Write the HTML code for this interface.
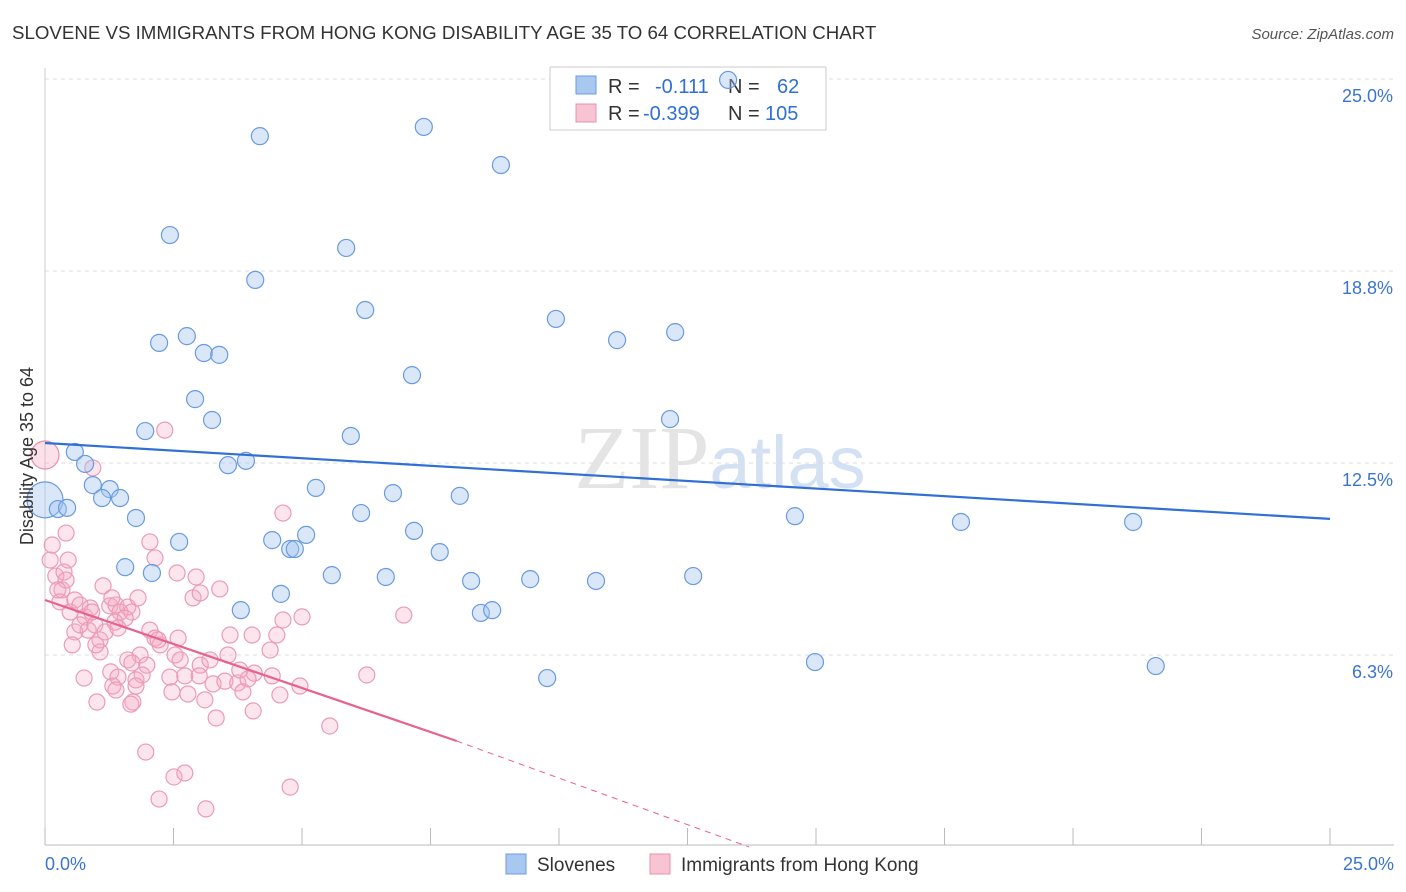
<!DOCTYPE html>
<html><head><meta charset="utf-8"><style>
body{margin:0;background:#fff;font-family:"Liberation Sans",sans-serif}
svg{display:block}
</style></head><body>
<svg id="chart" width="1406" height="892" xmlns="http://www.w3.org/2000/svg">
<text x="12" y="39" font-size="18.7" fill="#333">SLOVENE VS IMMIGRANTS FROM HONG KONG DISABILITY AGE 35 TO 64 CORRELATION CHART</text>
<text x="1394" y="39" font-size="15" fill="#555" text-anchor="end" font-style="italic">Source: ZipAtlas.com</text>
<g id="grid"></g>
<text x="720" y="488" font-size="90" text-anchor="middle" fill="#e4e4e4" font-family="Liberation Serif,serif">ZIP<tspan fill="#d3e1f3" font-family="Liberation Sans,sans-serif" font-size="74">atlas</tspan></text>
<g id="axes"></g>
<g>
<rect x="550" y="67" width="276" height="63" fill="#fff" stroke="#ccc"/>
<rect x="576" y="76" width="20" height="18" fill="#a9c8f0" stroke="#6a9be0"/>
<rect x="576" y="104" width="20" height="18" fill="#f8c3d3" stroke="#e890ab"/>
<text x="608" y="93" font-size="20" fill="#333">R = <tspan fill="#2f6fd6" x="655">-0.111</tspan><tspan x="728" fill="#333">N =</tspan><tspan x="777" fill="#2f6fd6">62</tspan></text>
<text x="608" y="120" font-size="20" fill="#333">R = <tspan fill="#2f6fd6" x="643">-0.399</tspan><tspan x="728" fill="#333">N =</tspan><tspan x="765" fill="#2f6fd6">105</tspan></text>
</g>
<g id="pinkPts"></g>
<g id="bluePts"></g>
<g id="lines"></g>
<text transform="translate(33,456) rotate(-90)" font-size="18" fill="#333" text-anchor="middle">Disability Age 35 to 64</text>
<g>
<rect x="506" y="854" width="20" height="20" fill="#a9c8f0" stroke="#6a9be0"/>
<text x="537" y="871" font-size="19" fill="#333">Slovenes</text>
<rect x="650" y="854" width="20" height="20" fill="#f8c3d3" stroke="#e890ab"/>
<text x="681" y="871" font-size="19" fill="#333">Immigrants from Hong Kong</text>
</g>
</svg>
<script>
const blueX=[13.29,4.18,7.37,8.87,2.43,5.86,4.09,6.23,9.94,11.13,12.26,2.76,2.22,3.09,3.39,7.14,2.92,3.25,12.16,1.95,5.95,0.58,0.78,3.56,3.91,0.93,5.27,1.26,6.77,8.07,1.11,1.46,0.25,0.43,1.77,6.15,14.59,17.82,21.17,7.18,4.42,5.08,2.61,4.77,4.86,7.68,1.56,2.08,5.58,6.63,8.29,9.44,10.72,12.61,4.59,3.81,8.48,8.70,14.98,21.61,9.77];
const blueY=[24.97,23.14,23.44,22.20,19.92,19.50,18.46,17.48,17.19,16.50,16.76,16.63,16.41,16.08,16.02,15.36,14.58,13.90,13.93,13.54,13.38,12.86,12.47,12.43,12.57,11.78,11.69,11.65,11.52,11.43,11.36,11.36,11.00,11.04,10.71,10.87,10.77,10.58,10.58,10.29,9.99,10.16,9.93,9.70,9.70,9.60,9.11,8.92,8.85,8.79,8.66,8.72,8.66,8.82,8.24,7.71,7.62,7.71,6.02,5.89,5.50];
const pinkX=[0.14,0.10,0.21,0.33,0.37,0.41,0.93,2.33,0.29,0.49,0.58,0.68,0.78,0.88,1.13,1.26,1.38,1.46,1.61,1.69,0.84,0.97,1.07,1.17,0.58,0.53,1.36,1.42,1.81,2.04,2.14,2.57,2.94,2.88,3.02,3.40,2.04,2.14,2.24,2.20,1.85,1.61,1.98,2.53,2.63,3.02,3.21,3.56,3.60,4.03,4.51,4.38,4.63,5.00,4.63,6.98,1.28,1.42,1.77,1.89,1.69,1.32,1.38,1.77,2.43,2.72,3.00,3.27,3.50,3.75,4.07,4.42,0.76,2.47,2.78,4.57,4.96,6.26,1.01,1.71,1.67,3.33,4.05,5.54,1.96,2.51,2.72,2.22,4.77,3.13,1.30,1.56,1.07,0.99,0.45,0.41,0.25,0.68,0.91,2.59,3.79,3.85,3.95,3.11];
const pinkY=[9.83,9.34,8.82,8.37,8.95,10.22,12.34,13.57,7.98,7.65,8.04,7.88,7.49,7.78,8.50,7.85,7.88,7.65,7.81,7.65,7.06,7.23,6.74,7.00,7.00,6.58,7.32,7.13,8.11,9.93,9.41,8.92,8.79,8.11,8.27,8.40,7.06,6.80,6.58,6.74,6.25,6.09,5.92,6.25,6.09,5.92,6.09,6.25,6.90,6.90,6.90,6.41,7.39,7.49,10.87,7.55,5.70,5.53,5.44,5.60,5.99,5.24,5.11,5.24,5.53,5.57,5.57,5.31,5.40,5.34,5.66,5.57,5.50,5.05,4.98,4.95,5.24,5.60,4.72,4.72,4.65,4.20,4.43,3.94,3.09,2.28,2.41,1.56,1.95,1.24,8.11,7.45,6.35,6.58,9.34,8.69,8.37,7.23,7.65,6.80,5.76,5.05,5.47,4.79];
const yTicks=[25.0,18.75,12.5,6.25];
const yTickLabels=["25.0%","18.8%","12.5%","6.3%"];
const xTicks=[0,2.5,5,7.5,10,12.5,15,17.5,20,22.5,25];
const blueTrend=[13.15,10.68];
const pinkTrend=[8.04,3.45,0.0];
const pinkTrendX=[0,8.01,13.7];
const NS='http://www.w3.org/2000/svg';
const X=v=>45+v*51.4, Y=v=>847-v*30.72;
function mk(tag,parent,attrs){const e=document.createElementNS(NS,tag);for(const k in attrs)e.setAttribute(k,attrs[k]);parent.appendChild(e);return e;}
const grid=document.getElementById('grid'),axes=document.getElementById('axes');
yTicks.forEach((t,i)=>{
 const l=mk('line',grid,{x1:45,x2:1394,y1:Y(t),y2:Y(t),stroke:'#ddd','stroke-dasharray':'4,4'});
 
 
 const tx=mk('text',axes,{x:1393,y:Y(t)+23,'font-size':18,fill:'#3b74d1','text-anchor':'end'});
 tx.textContent=yTickLabels[i];
 
 
});
const ax=mk('line',axes,{x1:45,x2:1394,y1:845,y2:845,stroke:'#bbb'});


const ay=mk('line',axes,{x1:45,x2:45,y1:68,y2:845,stroke:'#ccc'});


xTicks.forEach(t=>{const l=mk('line',axes,{x1:X(t),x2:X(t),y1:828,y2:845,stroke:'#bbb'});
 
 });
const x0=mk('text',axes,{x:45,y:870,'font-size':18,fill:'#3b74d1'});x0.textContent='0.0%';


const x1=mk('text',axes,{x:1394,y:870,'font-size':18,fill:'#3b74d1','text-anchor':'end'});x1.textContent='25.0%';


const pg=document.getElementById('pinkPts');
const big1=mk('circle',pg,{cx:X(0),cy:Y(12.76),r:14,fill:'rgba(245,170,195,0.35)',stroke:'#e890ab','stroke-width':1.2});


pinkX.forEach((v,i)=>{const c=mk('circle',pg,{cx:X(v),cy:Y(pinkY[i]),r:8,fill:'rgba(245,170,195,0.3)',stroke:'#eb9bb5','stroke-width':1.2});
 
 });
const bg=document.getElementById('bluePts');
const big2=mk('circle',bg,{cx:X(0),cy:Y(11.3),r:18,fill:'rgba(160,195,240,0.4)',stroke:'#6a9be0','stroke-width':1.2});


blueX.forEach((v,i)=>{const c=mk('circle',bg,{cx:X(v),cy:Y(blueY[i]),r:8.5,fill:'rgba(160,195,240,0.4)',stroke:'#6a9be0','stroke-width':1.2});
 
 });
const lg=document.getElementById('lines');
const bl=mk('line',lg,{x1:X(0),y1:Y(blueTrend[0]),x2:X(25),y2:Y(blueTrend[1]),stroke:'#2f6fd6','stroke-width':2.2});


const pl=mk('line',lg,{x1:X(pinkTrendX[0]),y1:Y(pinkTrend[0]),x2:X(pinkTrendX[1]),y2:Y(pinkTrend[1]),stroke:'#e8628f','stroke-width':2.2});


const pd=mk('line',lg,{x1:X(pinkTrendX[1]),y1:Y(pinkTrend[1]),x2:X(pinkTrendX[2]),y2:Y(pinkTrend[2]),stroke:'#e8628f','stroke-width':1,'stroke-dasharray':'6,5'});


</script>
</body></html>
